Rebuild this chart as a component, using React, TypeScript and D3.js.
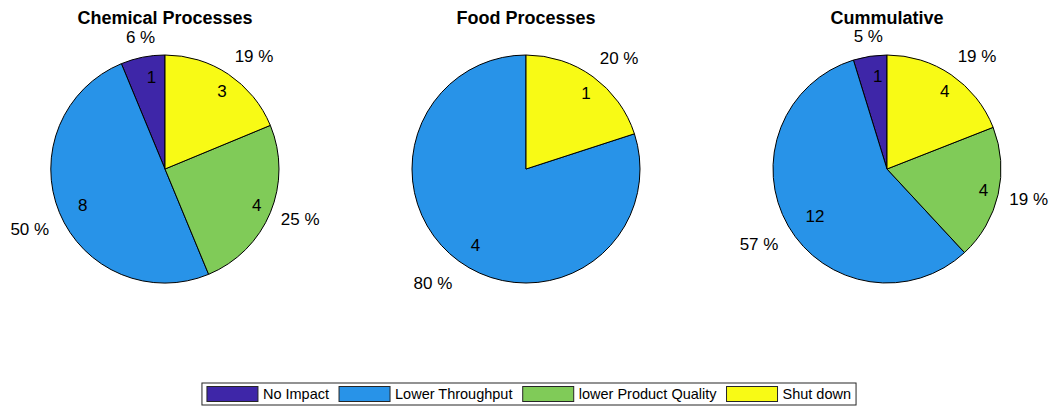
import React from "react";
import * as d3 from "d3";

const categories = ["No Impact", "Lower Throughput", "lower Product Quality", "Shut down"];
const colors = ["#3e26a8", "#2893e8", "#80cb58", "#f8fa15"];
const titles = ["Chemical Processes", "Food Processes", "Cummulative"];
const chemicalValues = [1, 8, 4, 3];
const foodValues = [0, 4, 0, 1];
const cumulativeValues = [1, 12, 4, 4];
const seriesList = [chemicalValues, foodValues, cumulativeValues];

const W = 1055;
const H = 408;
const FONT = "'Liberation Sans', Arial, Helvetica, sans-serif";
const LABEL_FS = 17;
const TITLE_FS = 18;
const LEGEND_FS = 14.5;

function measure(text: string, size: number, weight = "normal") {
  const c = document.createElement("canvas");
  const ctx = c.getContext("2d")!;
  ctx.font = `${weight} ${size}px 'Liberation Sans', Arial, sans-serif`;
  return ctx.measureText(text).width;
}

function Pie({ values, title, cx, cy, R }: { values: number[]; title: string; cx: number; cy: number; R: number }) {
  const pie = d3.pie<number>().sort(null).value((d) => d).startAngle(0).endAngle(-2 * Math.PI);
  const arcs = pie(values);
  const arc = d3.arc<d3.PieArcDatum<number>>().innerRadius(0).outerRadius(R);
  const total = d3.sum(values);
  return (
    <g>
      <text x={cx} y={23.5} textAnchor="middle" fontFamily={FONT} fontWeight="bold" fontSize={TITLE_FS} fill="#000">
        {title}
      </text>
      <g transform={`translate(${cx},${cy})`}>
        {arcs.map((a, i) =>
          a.value > 0 ? (
            <path key={i} d={arc(a) || ""} fill={colors[i]} stroke="#000" strokeWidth={1} strokeLinejoin="round" />
          ) : null
        )}
      </g>
      {arcs.map((a, i) => {
        if (a.value <= 0) return null;
        const mid = (a.startAngle + a.endAngle) / 2;
        const sx = Math.sin(mid);
        const sy = -Math.cos(mid);
        // count label (left aligned at 0.82R)
        const ix = cx + 0.825 * R * sx;
        const iy = cy + 0.825 * R * sy;
        // percent label at 1.1R
        const px = cx + 1.1 * R * sx;
        const py = cy + 1.1 * R * sy;
        let anchor: "start" | "middle" | "end" = "middle";
        if (Math.abs(sx) < 0.3) anchor = "middle";
        else anchor = sx > 0 ? "start" : "end";
        let base: number;
        if (sy < 0) base = py - 3.2;
        else if (sx > 0.7) base = py + 8;
        else base = py + 18.5;
        const pct = Math.round((a.value / total) * 100);
        return (
          <g key={"l" + i}>
            <text x={ix} y={iy + 0.36 * LABEL_FS} fontFamily={FONT} fontSize={LABEL_FS} fill="#000">
              {String(a.value)}
            </text>
            <text x={px} y={base} textAnchor={anchor} fontFamily={FONT} fontSize={LABEL_FS} fill="#000">
              {`${pct} %`}
            </text>
          </g>
        );
      })}
    </g>
  );
}

function Legend() {
  const swW = 51;
  const swH = 15;
  const pad = 5;
  const gap = 5;
  const itemGap = 10;
  const widths = categories.map((c) => measure(c, LEGEND_FS));
  const itemW = widths.map((w) => swW + gap + w);
  const totalW = pad * 2 + d3.sum(itemW) + itemGap * (categories.length - 1);
  const x0 = W / 2 + 1.5 - totalW / 2;
  const y0 = 383;
  const h = 22;
  let x = x0 + pad;
  const items = categories.map((c, i) => {
    const sx = x;
    x += itemW[i] + itemGap;
    return (
      <g key={c}>
        <rect x={sx} y={y0 + (h - swH) / 2} width={swW} height={swH} fill={colors[i]} stroke="#262626" strokeWidth={1} />
        <text x={sx + swW + gap} y={y0 + h / 2 + 0.36 * LEGEND_FS} fontFamily={FONT} fontSize={LEGEND_FS} fill="#000">
          {c}
        </text>
      </g>
    );
  });
  return (
    <g>
      <rect x={x0} y={y0} width={totalW} height={h} fill="#fff" stroke="#262626" strokeWidth={1} />
      {items}
    </g>
  );
}

export default function App() {
  const centers = [165, 526, 887];
  const cy = 169;
  const R = 114;
  return (
    <div style={{ position: "fixed", left: 0, top: 0 }}>
      <svg width={W} height={H} viewBox={`0 0 ${W} ${H}`} style={{ display: "block", background: "#fff" }}>
        <rect x={0} y={0} width={W} height={H} fill="#fff" />
        {seriesList.map((vals, k) => (
          <Pie key={k} values={vals} title={titles[k]} cx={centers[k]} cy={cy} R={R} />
        ))}
        <Legend />
      </svg>
    </div>
  );
}
